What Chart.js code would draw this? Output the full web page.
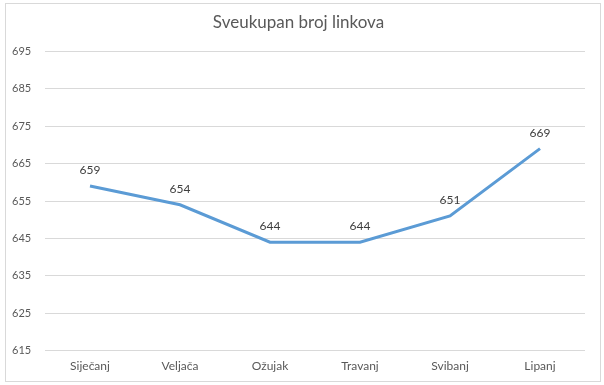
<!DOCTYPE html>
<html>
<head>
<meta charset="utf-8">
<script src="https://cdn.jsdelivr.net/npm/chart.js@4"></script>
<style>
  body { margin: 0; background: #fff; }
  #wrap { position: absolute; left: 5px; top: 3px; width: 594px; height: 377px; border: 1px solid #d9d9d9; }
</style>
</head>
<body>
<div id="wrap"><canvas id="myChart"></canvas></div>
<script>
const months = ['Siječanj', 'Veljača', 'Ožujak', 'Travanj', 'Svibanj', 'Lipanj'];
const links = [659, 654, 644, 644, 651, 669];
const yMin = 615, yMax = 695, yStep = 10;

// value labels above each point
const valueLabels = {
    id: 'valueLabels',
    afterDatasetsDraw(chart) {
        const ctx = chart.ctx;
        const meta = chart.getDatasetMeta(0);
        ctx.save();
        ctx.font = '12px Lato';
        ctx.fillStyle = '#404040';
        ctx.textAlign = 'center';
        ctx.textBaseline = 'middle';
        meta.data.forEach((pt, i) => {
            ctx.fillText(links[i], pt.x, pt.y - 16);
        });
        ctx.restore();
    }
};

document.addEventListener('DOMContentLoaded', function() {
    var ctx = document.getElementById('myChart').getContext('2d');
    new Chart(ctx, {
        type: 'line',
        data: {
            labels: months,
            datasets: [{
                data: links,
                borderColor: '#5b9bd5',
                borderWidth: 3,
                pointRadius: 0,
                tension: 0,
                fill: false
            }]
        },
        options: {
            responsive: true,
            maintainAspectRatio: false,
            animation: false,
            layout: { padding: { left: 6, right: 15, top: 4, bottom: 0 } },
            plugins: {
                legend: { display: false },
                tooltip: { enabled: false },
                title: {
                    display: true,
                    text: 'Sveukupan broj linkova',
                    color: '#595959',
                    font: { family: 'Lato', size: 17, weight: 'normal' },
                    padding: { top: 4, bottom: 19 }
                }
            },
            scales: {
                x: {
                    offset: true,
                    afterFit(scale) { scale.paddingLeft = 0; scale.paddingRight = 0; },
                    grid: { display: false, drawTicks: false },
                    border: { display: false },
                    ticks: { color: '#595959', font: { family: 'Lato', size: 12 }, padding: 8 }
                },
                y: {
                    min: yMin,
                    max: yMax,
                    afterFit(scale) { scale.width = 33; },
                    ticks: { stepSize: yStep, color: '#595959', font: { family: 'Lato', size: 11 }, crossAlign: 'far', padding: 0 },
                    grid: { color: '#d9d9d9', drawTicks: false },
                    border: { display: false }
                }
            }
        },
        plugins: [valueLabels]
    });
});
</script>
</body>
</html>
